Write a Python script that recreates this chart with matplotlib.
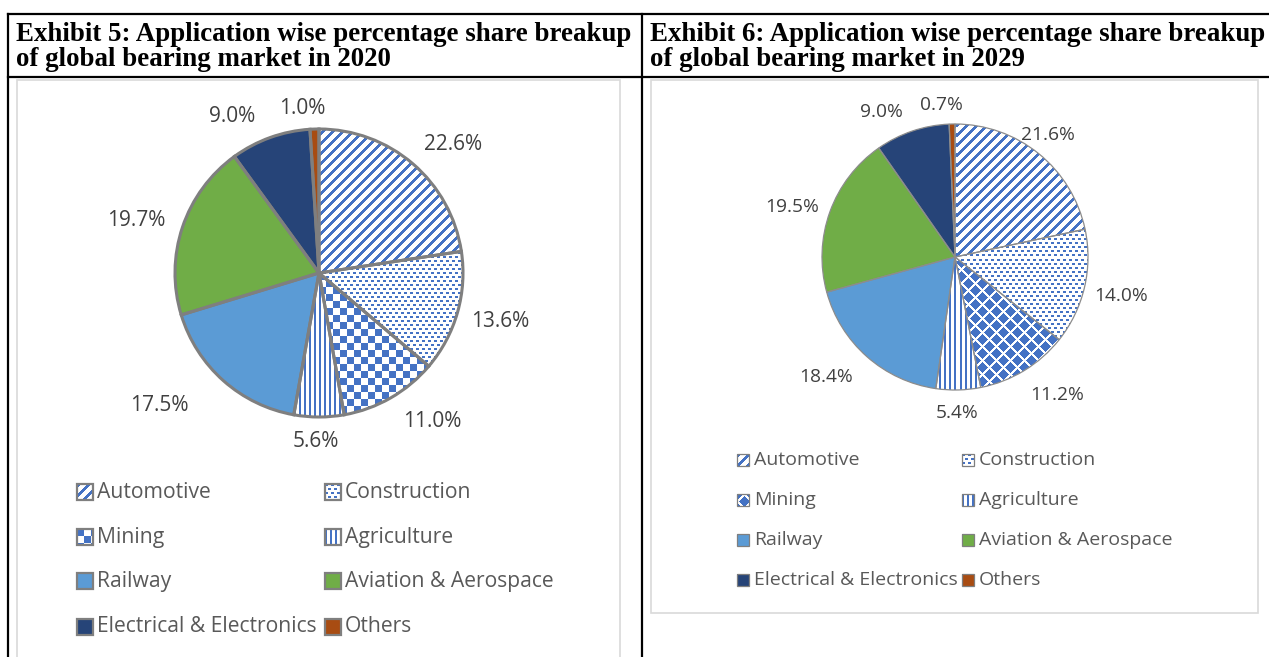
import numpy as np
import matplotlib
matplotlib.use("Agg")
import matplotlib.pyplot as plt
from matplotlib.patches import Rectangle
from matplotlib.lines import Line2D

# ---------------- data ----------------
categories = ["Automotive", "Construction", "Mining", "Agriculture", "Railway",
              "Aviation & Aerospace", "Electrical & Electronics", "Others"]
share_2020 = [22.6, 13.6, 11.0, 5.6, 17.5, 19.7, 9.0, 1.0]
share_2029 = [21.6, 14.0, 11.2, 5.4, 18.4, 19.5, 9.0, 0.7]
title_2020 = ["Exhibit 5: Application wise percentage share breakup",
              "of global bearing market in 2020"]
title_2029 = ["Exhibit 6: Application wise percentage share breakup",
              "of global bearing market in 2029"]

# ---------------- styles ----------------
W, H = 1269, 657
BLUE = np.array([68, 114, 196, 255], dtype=np.uint8)
WHITE = np.array([255, 255, 255, 255], dtype=np.uint8)
solid = {"Railway": "#5B9BD5", "Aviation & Aerospace": "#70AD47",
         "Electrical & Electronics": "#264478", "Others": "#A84C12"}
patterns_2020 = {"Automotive": "diag", "Construction": "dots", "Mining": "checker",
                 "Agriculture": "vert"}
patterns_2029 = {"Automotive": "diag", "Construction": "dots", "Mining": "diamond",
                 "Agriculture": "vert"}
TXT = "#404040"
LEG_TXT = "#595959"
SANS = ["Open Sans", "DejaVu Sans"]

fig = plt.figure(figsize=(W / 100, H / 100), dpi=100)


def fx(px):
    return px / W


def fy(py):
    return 1 - py / H


def texture(kind, n):
    y, x = np.mgrid[0:n, 0:n]
    if kind == "diag":
        m = ((x + y) % 10) < 4
    elif kind == "dots":
        m = ((y % 4) < 2) & (((x + 3 * ((y // 4) % 2)) % 6) < 3)
    elif kind == "checker":
        m = ((x // 7 + y // 7) % 2) == 0
    elif kind == "vert":
        m = (x % 5) < 2
    elif kind == "diamond":
        P = 14
        dx1 = np.abs(((x + P / 2) % P) - P / 2)
        dy1 = np.abs(((y + P / 2) % P) - P / 2)
        dx2 = np.abs((x % P) - P / 2)
        dy2 = np.abs((y % P) - P / 2)
        m = ((dx1 + dy1) < 6) | ((dx2 + dy2) < 6)
    else:
        m = np.zeros_like(x, dtype=bool)
    arr = np.empty((n, n, 4), dtype=np.uint8)
    arr[:] = WHITE
    arr[m] = BLUE
    return arr


# ---------------- table frame ----------------
def hline(y, x0, x1, lw=1.6, color="black"):
    fig.add_artist(Line2D([fx(x0), fx(x1)], [fy(y), fy(y)], color=color, lw=lw))


def vline(x, y0, y1, lw=1.6, color="black"):
    fig.add_artist(Line2D([fx(x), fx(x)], [fy(y0), fy(y1)], color=color, lw=lw))


hline(14, 8, 1269)
hline(77, 8, 1269)
vline(8, 14, 657)
vline(642, 14, 657)

# chart boxes
fig.add_artist(Rectangle((fx(17), fy(700)), fx(620) - fx(17), fy(80) - fy(700),
                         transform=fig.transFigure, fill=False, edgecolor="#D9D9D9", lw=1.2))
fig.add_artist(Rectangle((fx(651), fy(613)), fx(1258) - fx(651), fy(80) - fy(613),
                         transform=fig.transFigure, fill=False, edgecolor="#D9D9D9", lw=1.2))

# headers
for lines, x0 in ((title_2020, 16), (title_2029, 650)):
    fig.text(fx(x0), fy(41), lines[0], family="Liberation Serif", weight="bold",
             fontsize=19.4, va="baseline", ha="left", color="black")
    fig.text(fx(x0), fy(66), lines[1], family="Liberation Serif", weight="bold",
             fontsize=19.4, va="baseline", ha="left", color="black")


# ---------------- pies ----------------
def draw_pie(values, patterns, cx, cy, r, edge_lw, edge_col, lab_style, fs):
    L = 1.7
    size = 2 * L * r
    ax = fig.add_axes([fx(cx - size / 2), (H - cy - size / 2) / H, size / W, size / H])
    n = int(round(size))
    faces = [solid.get(c, "white") for c in categories]
    wedges, _ = ax.pie(values, startangle=90, counterclock=False, colors=faces,
                       wedgeprops=dict(edgecolor="none", linewidth=0))
    for w, c in zip(wedges, categories):
        kind = patterns.get(c)
        if kind:
            im = ax.imshow(texture(kind, n), extent=(-L, L, -L, L),
                           interpolation="nearest", zorder=w.get_zorder() + 0.1)
            im.set_clip_path(w)
    outl, _ = ax.pie(values, startangle=90, counterclock=False,
                     wedgeprops=dict(fill=False, edgecolor=edge_col, linewidth=edge_lw))
    for w in outl:
        w.set_zorder(5)
    total = float(np.sum(values))
    cum = 0.0
    for v, (d, dth) in zip(values, lab_style):
        th = np.deg2rad(360 * (cum + v / 2) / total + dth)
        cum += v
        ax.text(d * np.sin(th), d * np.cos(th), f"{v:.1f}%", ha="center", va="center",
                fontsize=fs, color=TXT, family=SANS)
    ax.set_xlim(-L, L)
    ax.set_ylim(-L, L)
    ax.set_aspect("auto")
    ax.axis("off")
    return ax


lab_2020 = [(1.29, 5.6), (1.30, -0.7), (1.30, -7.5), (1.17, 1.0),
            (1.44, 8.7), (1.32, -2.6), (1.24, -9.3), (1.15, -4.1)]
lab_2029 = [(1.15, -1.6), (1.28, 0.0), (1.29, -5.2), (1.17, 0.8),
            (1.32, 5.6), (1.28, -2.9), (1.22, -8.1), (1.15, -4.0)]

draw_pie(share_2020, patterns_2020, 319, 273, 144, 2.2, "#7F7F7F", lab_2020, 15)
draw_pie(share_2029, patterns_2029, 955, 257, 133, 0.9, "#8C8C8C", lab_2029, 13.8)


# ---------------- legends ----------------
def draw_legend(patterns, col_x, text_dx, row_y, msize, edge_lw, fs):
    for i, c in enumerate(categories):
        row, col = divmod(i, 2)
        x0 = col_x[col]
        yc = row_y[row]
        top = yc - msize / 2
        kind = patterns.get(c)
        if kind:
            arr = texture(kind, msize)
        else:
            rgb = (np.array(matplotlib.colors.to_rgba(solid[c])) * 255).astype(np.uint8)
            arr = np.empty((msize, msize, 4), dtype=np.uint8)
            arr[:] = rgb
        fig.figimage(arr, xo=x0, yo=H - top - msize, zorder=3)
        fig.add_artist(Rectangle((fx(x0), fy(top + msize)), msize / W, msize / H,
                                 transform=fig.transFigure, fill=False,
                                 edgecolor="#7F7F7F", lw=edge_lw, zorder=4))
        fig.text(fx(x0 + msize + text_dx), fy(yc), c, ha="left", va="center",
                 fontsize=fs, color=LEG_TXT, family=SANS)


draw_legend(patterns_2020, [77, 325], 4, [492, 537, 581, 627], 16, 1.6, 15.2)
draw_legend(patterns_2029, [737, 962], 5, [460, 500, 540, 580], 12, 0.9, 14)

fig.savefig("out.png", dpi=100)
